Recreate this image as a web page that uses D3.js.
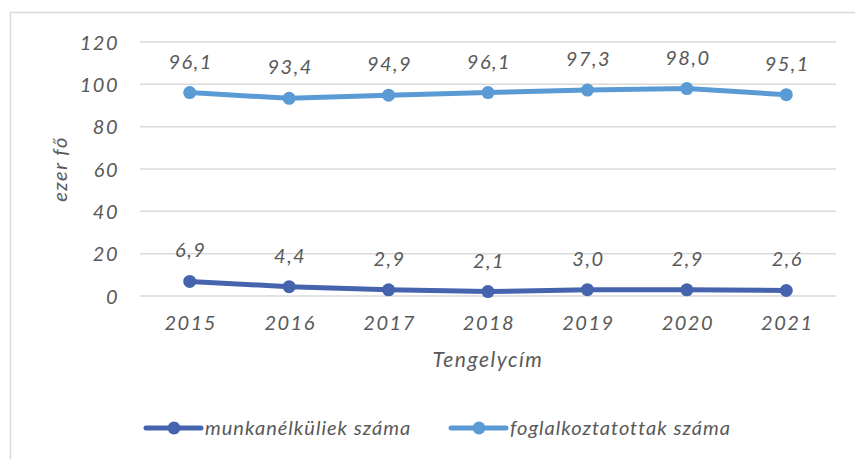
<!DOCTYPE html>
<html>
<head>
<meta charset="utf-8">
<script src="https://cdn.jsdelivr.net/npm/d3@7"></script>
<style>
  body { margin: 0; background: #fff; }
  text { font-family: Lato, "Open Sans", sans-serif; font-style: italic; fill: #595959; letter-spacing: 1.5px; }
</style>
</head>
<body>
<script>
// chart data
var years = ["2015", "2016", "2017", "2018", "2019", "2020", "2021"];
var unemployed = [6.9, 4.4, 2.9, 2.1, 3.0, 2.9, 2.6];
var employed = [96.1, 93.4, 94.9, 96.1, 97.3, 98.0, 95.1];
var yTicks = [0, 20, 40, 60, 80, 100, 120];
var seriesNames = ["munkanélküliek száma", "foglalkoztatottak száma"];
var seriesColors = ["#4664ae", "#5b9bd5"];

var width = 855;
var height = 459;
var plot = {left: 140, right: 836, top: 42, bottom: 296};

var svg = d3.select("body")
    .append("svg")
    .attr("width", width)
    .attr("height", height);

// chart border (runs off the right and bottom edge)
svg.append("rect")
    .attr("x", 10.5)
    .attr("y", 12.5)
    .attr("width", 900)
    .attr("height", 500)
    .attr("fill", "none")
    .attr("stroke", "#d9d9d9")
    .attr("stroke-width", 1.5);

var x_scale = d3.scaleBand()
    .domain(years)
    .range([plot.left, plot.right]);

var y_scale = d3.scaleLinear()
    .domain([0, 120])
    .range([plot.bottom, plot.top]);

var cx = function(d, i) { return x_scale(years[i]) + x_scale.bandwidth() / 2; };

// gridlines
svg.append("g")
    .selectAll("line")
    .data(yTicks)
    .enter()
    .append("line")
    .attr("x1", plot.left)
    .attr("x2", plot.right)
    .attr("y1", function(d) { return y_scale(d); })
    .attr("y2", function(d) { return y_scale(d); })
    .attr("stroke", "#d9d9d9")
    .attr("stroke-width", 1.5);

// y axis labels
var y_axis = d3.axisLeft(y_scale).tickValues(yTicks).tickSize(0).tickPadding(0);
var gy = svg.append("g")
    .attr("transform", "translate(119,0)")
    .call(y_axis);
gy.select(".domain").remove();
gy.selectAll("text")
    .attr("font-size", 20)
    .attr("dy", "0.35em")
    .style("font-family", null);

// x axis labels
var x_axis = d3.axisBottom(x_scale).tickSize(0).tickPadding(0);
var gx = svg.append("g")
    .attr("transform", "translate(1,330)")
    .call(x_axis);
gx.select(".domain").remove();
gx.selectAll("text")
    .attr("font-size", 20)
    .attr("y", 0)
    .attr("dy", 0)
    .style("font-family", null);

// axis titles
svg.append("text")
    .attr("x", (plot.left + plot.right) / 2)
    .attr("y", 367)
    .attr("text-anchor", "middle")
    .attr("font-size", 21)
    .text("Tengelycím");

svg.append("text")
    .attr("transform", "translate(67," + (plot.top + plot.bottom) / 2 + ") rotate(-90)")
    .attr("text-anchor", "middle")
    .attr("font-size", 20)
    .text("ezer fő");

// series lines, markers and labels
var allSeries = [unemployed, employed];
var line = d3.line()
    .x(cx)
    .y(function(d) { return y_scale(d); });

allSeries.forEach(function(values, s) {
    var g = svg.append("g");
    g.append("path")
        .datum(values)
        .attr("d", line)
        .attr("fill", "none")
        .attr("stroke", seriesColors[s])
        .attr("stroke-width", 5)
        .attr("stroke-linecap", "round");
    g.selectAll("circle")
        .data(values)
        .enter()
        .append("circle")
        .attr("cx", cx)
        .attr("cy", function(d) { return y_scale(d); })
        .attr("r", 6.5)
        .attr("fill", seriesColors[s]);
    g.selectAll("text")
        .data(values)
        .enter()
        .append("text")
        .attr("x", function(d, i) { return cx(d, i) + 1; })
        .attr("y", function(d) { return y_scale(d) - 24; })
        .attr("text-anchor", "middle")
        .attr("font-size", 20)
        .text(function(d) { return d.toFixed(1).replace(".", ","); });
});

// legend
var legendX = [146, 451];
var legend = svg.selectAll(".legend")
    .data(seriesNames)
    .enter()
    .append("g")
    .attr("class", "legend")
    .attr("transform", function(d, i) { return "translate(" + legendX[i] + ",428)"; });
legend.append("line")
    .attr("x1", 0)
    .attr("x2", 55)
    .attr("stroke", function(d, i) { return seriesColors[i]; })
    .attr("stroke-width", 5)
    .attr("stroke-linecap", "round");
legend.append("circle")
    .attr("cx", 28)
    .attr("r", 6.5)
    .attr("fill", function(d, i) { return seriesColors[i]; });
legend.append("text")
    .attr("x", 59)
    .attr("dy", "0.35em")
    .attr("font-size", 20)
    .style("letter-spacing", "1px")
    .text(function(d) { return d; });
</script>
</body>
</html>
